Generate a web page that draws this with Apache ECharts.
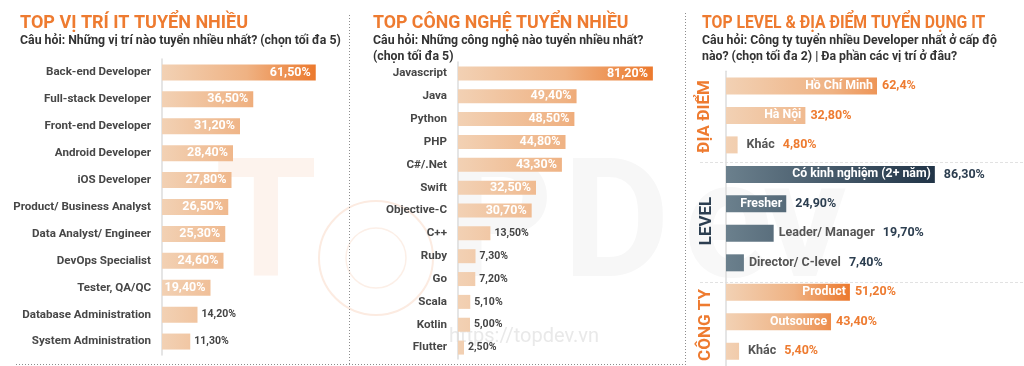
<!DOCTYPE html>
<html><head><meta charset="utf-8">
<script src="https://cdn.jsdelivr.net/npm/echarts@6/dist/echarts.min.js"></script>
<style>html,body{margin:0;padding:0;background:#fff}#c{width:1024px;height:366px}</style>
</head><body><div id="c"></div>
<script>
// ---------- DATA ----------
const leftCats = ['Back-end Developer','Full-stack Developer','Front-end Developer','Android Developer','iOS Developer','Product/ Business Analyst','Data Analyst/ Engineer','DevOps Specialist','Tester, QA/QC','Database Administration','System Administration'];
const leftValues = [61.5,36.5,31.2,28.4,27.8,26.5,25.3,24.6,19.4,14.2,11.3];

const midCats = ['Javascript','Java','Python','PHP','C#/.Net','Swift','Objective-C','C++','Ruby','Go','Scala','Kotlin','Flutter'];
const midValues = [81.2,49.4,48.5,44.8,43.3,32.5,30.7,13.5,7.3,7.2,5.1,5.0,2.5];

const rightCats = ['Hồ Chí Minh','Hà Nội','Khác','Có kinh nghiệm (2+ năm)','Fresher','Leader/ Manager','Director/ C-level','Product','Outsource','Khác'];
const rightValues = [62.4,32.8,4.8,86.3,24.9,19.7,7.4,51.2,43.4,5.4];
const rightValueLabels = ['62,4%','32,80%','4,80%','86,30%','24,90%','19,70%','7,40%','51,20%','43,40%','5,40%'];
const rightGroups = ['loc','loc','loc','lvl','lvl','lvl','lvl','co','co','co'];
const rightNameInside = [true,true,false,true,true,false,false,true,true,false];
const groupTitles = ['ĐỊA ĐIỂM','LEVEL','CÔNG TY'];

const titles = ['TOP VỊ TRÍ IT TUYỂN NHIỀU','TOP CÔNG NGHỆ TUYỂN NHIỀU','TOP LEVEL & ĐỊA ĐIỂM TUYỂN DỤNG IT'];
const subtitles = [
  ['Câu hỏi: Những vị trí nào tuyển nhiều nhất? (chọn tối đa 5)'],
  ['Câu hỏi: Những công nghệ nào tuyển nhiều nhất?','(chọn tối đa 5)'],
  ['Câu hỏi: Công ty tuyển nhiều Developer nhất ở cấp độ','nào? (chọn tối đa 2) | Đa phần các vị trí ở đâu?']
];

// ---------- STYLE ----------
const FONT = 'Roboto';
const ORANGE = '#ee7b30';
const SLATE = '#2c3e50';
const fmt = v => v.toFixed(2).replace('.', ',') + '%';

const grids = [
  {left:162, top:59, width:250, height:296},
  {left:458, top:62, width:240, height:297},
  {left:726, top:71.2, width:242, height:303.4}
];
function grad(gi, maxVal, stops){
  const g = grids[gi];
  return new echarts.graphic.LinearGradient(g.left, 0, g.left + maxVal/100*g.width, 0, stops, true);
}
const orangeStops = [{offset:0,color:'#f2d1b4'},{offset:0.55,color:'#efb283'},{offset:1,color:'#ec792d'}];
const slateStops = [{offset:0,color:'#6b808d'},{offset:1,color:'#213447'}];

function simpleSeries(gi, values, barW, inSize, outSize){
  const mx = Math.max(...values);
  return {
    type:'bar', xAxisIndex:gi, yAxisIndex:gi, barWidth:barW,
    data: values.map(v => ({
      value:v,
      itemStyle:{color:grad(gi, mx, orangeStops)},
      label: v > 15
        ? {show:true, position:'insideRight', distance:5, color:'#fff', fontFamily:FONT, fontWeight:'bold', fontSize:inSize, formatter:p=>fmt(p.value)}
        : {show:true, position:'right', distance:4, color:'#444', fontFamily:FONT, fontWeight:'bold', fontSize:outSize, formatter:p=>fmt(p.value)}
    }))
  };
}

const groupMax = {};
rightValues.forEach((v,i)=>{ const g=rightGroups[i]; groupMax[g]=Math.max(groupMax[g]||0, v); });
groupMax.loc = 80;

const rightBars = {
  type:'bar', xAxisIndex:2, yAxisIndex:2, barWidth:17, barGap:'-100%',
  data: rightValues.map((v,i)=>({
    value:v,
    itemStyle:{color: grad(2, groupMax[rightGroups[i]], rightGroups[i]==='lvl' ? slateStops : orangeStops)},
    label: rightNameInside[i]
      ? {show:true, position:'insideRight', distance:4, color:'#fff', fontFamily:FONT, fontWeight:'bold', fontSize:12.3, formatter:()=>rightCats[i]}
      : {show:false}
  }))
};
const rightValueSeries = {
  type:'bar', xAxisIndex:2, yAxisIndex:2, barWidth:17, barGap:'-100%', silent:true,
  itemStyle:{color:'rgba(0,0,0,0)'},
  data: rightValues.map((v,i)=>{
    const vc = rightGroups[i]==='lvl' ? 'vl' : 'vo';
    const txt = rightNameInside[i] ? `{${vc}|${rightValueLabels[i]}}` : `{n|${rightCats[i]}}{${vc}|${rightValueLabels[i]}}`;
    const dist = rightGroups[i]==='lvl' && rightNameInside[i] ? 9 : (rightCats[i]==='Khác' ? 9 : 5);
    return {value:v, label:{show:true, position:'right', distance:dist, formatter:()=>txt}};
  }),
  label:{
    rich:{
      n:{color:'#555', fontFamily:FONT, fontWeight:'bold', fontSize:12.5, padding:[0,8,0,0]},
      vo:{color:ORANGE, fontFamily:FONT, fontWeight:'bold', fontSize:12.5},
      vl:{color:SLATE, fontFamily:FONT, fontWeight:'bold', fontSize:12.5}
    }
  }
};

function yAxis(gi, data, showLabel){
  return {
    type:'category', gridIndex:gi, inverse:true, data:data,
    axisTick:{show:false},
    axisLine:{show:true, lineStyle:{color:'#dcdcdc', width:1.5}},
    axisLabel:{show:showLabel, margin:11, color:'#474747', fontFamily:FONT, fontWeight:'bold', fontSize:11.6},
    splitLine:{show:false}
  };
}
function xAxis(gi){ return {type:'value', gridIndex:gi, min:0, max:100, show:false}; }

// ---------- GRAPHIC ----------
const graphic = [];
// watermark
const wm = (t, x, col, size) => graphic.push({type:'text', x:x, y:317, z:-10, silent:true,
  style:{text:t, textAlign:'center', textVerticalAlign:'bottom', fill:col, font:`bold ${size||165}px ${FONT}`}});
wm('T', 266, '#fdf3ed');
wm('P', 500, '#f7f7f7');
wm('D', 616, '#f7f7f7');
wm('e', 728, '#f8f8f8');
wm('v', 805, '#f8f8f8');
graphic.push({type:'circle', z:-10, silent:true, shape:{cx:376, cy:258, r:57}, style:{fill:'none', stroke:'#fcebe1', lineWidth:2}});
graphic.push({type:'circle', z:-10, silent:true, shape:{cx:376, cy:258, r:30}, style:{fill:'none', stroke:'#fcefe7', lineWidth:1.5}});
graphic.push({type:'text', x:524, y:337, z:-9, silent:true,
  style:{text:'https://topdev.vn', textAlign:'center', textVerticalAlign:'middle', fill:'#e9e9e9', font:`20px ${FONT}`}});

// dotted frame lines
const dotted = {stroke:'#8c8c8c', lineWidth:1, lineDash:[1,2]};
graphic.push({type:'line', silent:true, shape:{x1:349.5, y1:15, x2:349.5, y2:364}, style:dotted});
graphic.push({type:'line', silent:true, shape:{x1:685.5, y1:13, x2:685.5, y2:366}, style:dotted});
graphic.push({type:'line', silent:true, shape:{x1:16, y1:364.5, x2:688, y2:364.5}, style:dotted});
// right panel group separators
graphic.push({type:'line', silent:true, shape:{x1:700, y1:162.5, x2:1024, y2:162.5}, style:{stroke:'#e2e2e2', lineWidth:1, lineDash:[3,2]}});
graphic.push({type:'line', silent:true, shape:{x1:700, y1:282.5, x2:1024, y2:282.5}, style:{stroke:'#e2e2e2', lineWidth:1, lineDash:[3,2]}});

// titles
const tx = [20, 373, 702];
const tScale = [1, 0.985, 0.875];
titles.forEach((t,i)=>{
  graphic.push({type:'text', x:tx[i], y:23.5, scaleX:tScale[i], style:{text:t, textVerticalAlign:'middle', fill:ORANGE, font:`bold 18px ${FONT}`}});
  subtitles[i].forEach((s,j)=>{
    graphic.push({type:'text', x:tx[i], y:41 + j*15.5, style:{text:s, textVerticalAlign:'middle', fill:'#333', font:`bold 12.3px ${FONT}`}});
  });
});
// rotated group titles
const gPos = [[704.5,116.5,ORANGE],[707,221,SLATE],[705.5,325,ORANGE]];
groupTitles.forEach((t,i)=>{
  graphic.push({type:'text', x:gPos[i][0], y:gPos[i][1], rotation:Math.PI/2,
    style:{text:t, textAlign:'center', textVerticalAlign:'middle', fill:gPos[i][2], font:`bold 17px ${FONT}`}});
});

const chart = echarts.init(document.getElementById('c'), null, {renderer:'canvas'});
chart.setOption({
  animation:false,
  backgroundColor:'#fff',
  grid: grids.map(g=>Object.assign({containLabel:false}, g)),
  xAxis:[xAxis(0), xAxis(1), xAxis(2)],
  yAxis:[yAxis(0,leftCats,true), yAxis(1,midCats,true), yAxis(2,rightCats.map((c,i)=>i+':'+c),false)],
  series:[
    simpleSeries(0, leftValues, 16, 12.5, 10.5),
    simpleSeries(1, midValues, 14, 12.5, 10.5),
    rightBars,
    rightValueSeries
  ],
  graphic: graphic
});
</script></body></html>
